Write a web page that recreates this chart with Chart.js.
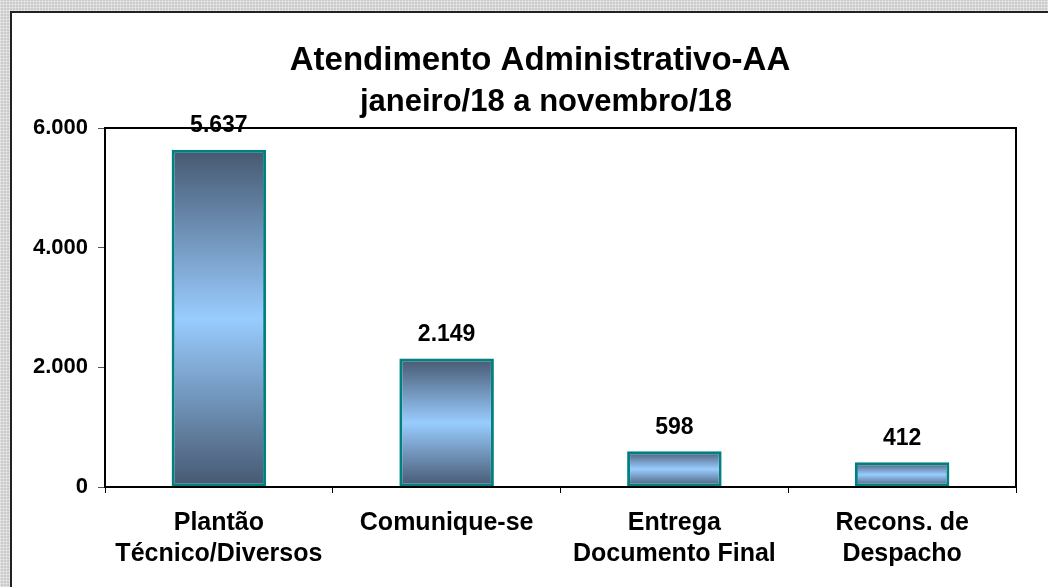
<!DOCTYPE html>
<html>
<head>
<meta charset="utf-8">
<script src="https://cdn.jsdelivr.net/npm/chart.js@4.4.0/dist/chart.umd.min.js"></script>
<style>
  html, body { margin: 0; padding: 0; }
  body {
    width: 1048px;
    height: 587px;
    overflow: hidden;
    background-color: #cbcbcb;
    background-image:
      repeating-linear-gradient(0deg, rgba(255,255,255,0.35) 0 1px, transparent 1px 3px),
      repeating-linear-gradient(90deg, rgba(255,255,255,0.35) 0 1px, transparent 1px 3px);
    position: relative;
  }
  .panel {
    position: absolute;
    left: 10px;
    top: 11px;
    width: 1060px;
    height: 600px;
    background: #fff;
    border-left: 2px solid #222;
    border-top: 2px solid #222;
  }
  #chartBox {
    position: absolute;
    left: 0;
    top: 0;
    width: 1048px;
    height: 587px;
  }
</style>
</head>
<body>
<div class="panel"></div>
<div id="chartBox"><canvas id="myChart"></canvas></div>
<script>
let categories = [
  ["Plantão", "Técnico/Diversos"],
  "Comunique-se",
  ["Entrega", "Documento Final"],
  ["Recons. de", "Despacho"],
];
let valuesAA = [5637, 2149, 598, 412];
let tickValues = [0, 2000, 4000, 6000];
let titleText = "Atendimento Administrativo-AA";
let subtitleText = "janeiro/18 a novembro/18";

let fmt = (v) => v.toLocaleString("de-DE");
let fontFamily = "'Liberation Sans', Arial, sans-serif";

let barGradient = (context) => {
  let chart = context.chart;
  let yScale = chart.scales.y;
  if (!yScale || context.dataIndex === undefined) return "#99ccff";
  let top = yScale.getPixelForValue(valuesAA[context.dataIndex]);
  let base = yScale.getPixelForValue(0);
  if (!isFinite(top) || !isFinite(base) || base - top < 1) return "#99ccff";
  let g = chart.ctx.createLinearGradient(0, top, 0, base);
  g.addColorStop(0, "#465870");
  g.addColorStop(0.5, "#99ccff");
  g.addColorStop(1, "#465870");
  return g;
};

// titles, frame round the plot area, value labels
const framePlugin = {
  id: "frame",
  afterDatasetsDraw(chart) {
    let { ctx, chartArea } = chart;
    ctx.save();
    ctx.strokeStyle = "#000";
    ctx.lineWidth = 2;
    ctx.strokeRect(chartArea.left, chartArea.top, chartArea.right - chartArea.left, chartArea.bottom - chartArea.top);
    ctx.fillStyle = "#000";
    ctx.textAlign = "center";
    ctx.textBaseline = "alphabetic";
    ctx.font = "bold 33px " + fontFamily;
    ctx.fillText(titleText, 540, 70);
    ctx.font = "bold 31px " + fontFamily;
    ctx.fillText(subtitleText, 546, 111);
    ctx.font = "bold 23px " + fontFamily;
    ctx.textBaseline = "middle";
    chart.getDatasetMeta(0).data.forEach((bar, i) => {
      ctx.fillText(fmt(valuesAA[i]), bar.x, bar.y - 24);
    });
    ctx.restore();
  },
};

const chartCtx = document.getElementById("myChart").getContext("2d");
const barChart = new Chart(chartCtx, {
  type: "bar",
  data: {
    labels: categories,
    datasets: [
      {
        label: "Atendimento",
        data: valuesAA,
        backgroundColor: barGradient,
        borderColor: "#008080",
        borderWidth: 3,
        borderSkipped: false,
        barPercentage: 0.415,
        categoryPercentage: 1,
      },
    ],
  },
  options: {
    responsive: true,
    maintainAspectRatio: false,
    animation: false,
    layout: {
      padding: { left: 0, right: 32, top: 128, bottom: 0 },
    },
    plugins: {
      legend: { display: false },
      tooltip: { enabled: false },
    },
    scales: {
      x: {
        grid: {
          display: true,
          offset: true,
          drawOnChartArea: false,
          drawTicks: true,
          tickLength: 6,
          color: "#000",
        },
        border: { display: true, color: "#000", width: 2 },
        ticks: {
          color: "#000",
          padding: 15,
          maxRotation: 0,
          autoSkip: false,
          font: { family: fontFamily, size: 25, weight: "bold", lineHeight: 1.24 },
        },
        afterFit: (scale) => {
          scale.height = 100;
        },
      },
      y: {
        min: 0,
        max: 6000,
        afterBuildTicks: (scale) => {
          scale.ticks = tickValues.map((v) => ({ value: v }));
        },
        grid: {
          display: true,
          drawOnChartArea: false,
          drawTicks: true,
          tickLength: 7,
          color: "#555",
        },
        border: { display: true, color: "#000", width: 2 },
        ticks: {
          color: "#000",
          padding: 10,
          callback: (v) => fmt(v),
          font: { family: fontFamily, size: 22, weight: "bold" },
        },
        afterFit: (scale) => {
          scale.width = 105;
        },
      },
    },
  },
  plugins: [framePlugin],
});
</script>
</body>
</html>
